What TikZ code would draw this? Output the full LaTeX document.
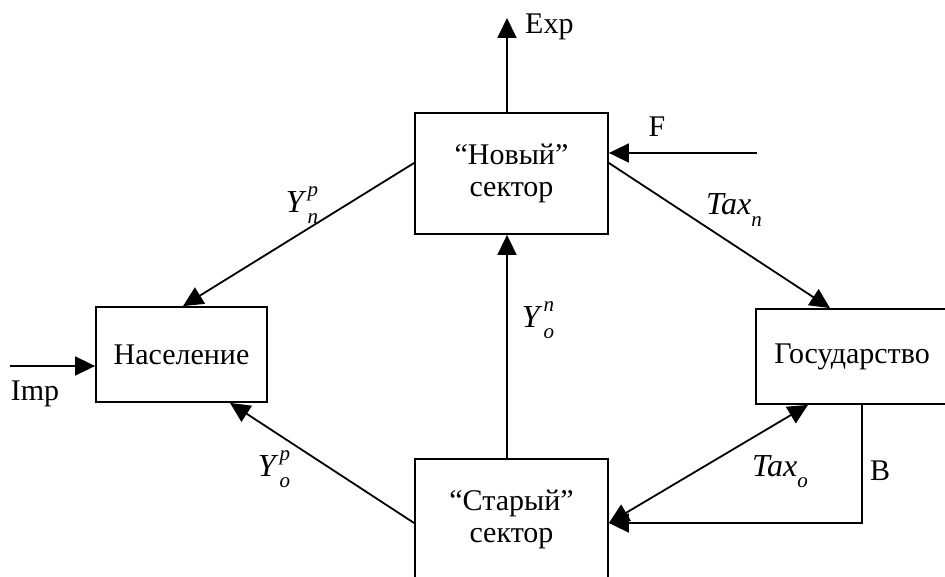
\documentclass[tikz,border=0pt]{standalone}
\usepackage{fontspec}
\setmainfont{Liberation Serif}
\usetikzlibrary{arrows.meta,calc}
\newcommand{\supsub}[3]{\textit{#1}\kern1pt\makebox[0pt][l]{\raisebox{0.5em}{\fontsize{21}{21}\selectfont\textit{#3}}}\raisebox{-0.35em}{\fontsize{21}{21}\selectfont\textit{#2}}}
\newcommand{\justsub}[2]{\textit{#1}\raisebox{-0.35em}{\fontsize{21}{21}\selectfont\textit{#2}}}
\begin{document}
\begin{tikzpicture}[x=1pt,y=-1pt,
  every node/.style={font=\fontsize{30}{32}\selectfont},
  box/.style={draw,line width=1.8pt,inner sep=0pt,align=center},
  conn/.style={line width=1.8pt},
  arr/.style={conn,-{Triangle[length=20pt,width=19pt]}},
  darr/.style={conn,{Triangle[length=20pt,width=19pt]}-{Triangle[length=20pt,width=19pt]}},
  lbl/.style={inner sep=0pt},
  ital/.style={inner sep=0pt,font=\fontsize{32}{34}\selectfont}]
\useasboundingbox (0,0) rectangle (945,577);
\clip (0,0) rectangle (945,577);
% boxes
\node[box,minimum width=193pt,minimum height=121pt] (new) at (511.5,173.5) {“Новый”\\сектор};
\node[box,minimum width=171pt,minimum height=95pt] (nas) at (181.5,354.5) {Население};
\node[box,minimum width=204pt,minimum height=95pt] (gos) at (858,356.5) {Государство\hspace*{12pt}};
\node[box,minimum width=193pt,minimum height=121pt] (old) at (511.5,519.5) {“Старый”\\сектор};
% free ends
\coordinate (expend) at (507,18);
\coordinate (fstart) at (757,153);
\coordinate (impstart) at (10,366);
% connectors
\draw[arr] ([xshift=-4.5pt]new.north) -- (expend);
\draw[arr] (fstart) -- (new.east |- fstart);
\draw[arr] ([yshift=10.5pt]new.west) -- ([xshift=1.5pt]nas.north);
\draw[arr] ([yshift=10.5pt]new.east) -- ([xshift=-28pt]gos.north);
\draw[arr] ([xshift=-4.5pt]old.north) -- ([xshift=-4.5pt]new.south);
\draw[arr] ([yshift=-3.5pt]old.west) -- ([xshift=48.5pt]nas.south);
\draw[darr] ([yshift=-3.5pt]old.east) -- ([xshift=-50pt]gos.south);
\draw[arr] ([xshift=4pt]gos.south) |- ([yshift=-3.5pt]old.east);
\draw[arr] (impstart) -- (nas.west |- impstart);
% labels
\node[lbl,anchor=west] (lexp) at (525,27) {Exp};
\node[lbl] (lf) at (657,127) {F};
\node[lbl] (limp) at (35,394) {Imp};
\node[lbl] (lb) at (880,471) {B};
\node[ital] (lynp) at (302,205) {\supsub{Y}{n}{p}};
\node[ital] (lyon) at (538,320) {\supsub{Y}{o}{n}};
\node[ital] (lyop) at (274,469) {\supsub{Y}{o}{p}};
\node[ital] (ltaxn) at (734,210) {\justsub{Tax}{n}};
\node[ital] (ltaxo) at (780,472) {\justsub{Tax}{o}};
\end{tikzpicture}
\end{document}
